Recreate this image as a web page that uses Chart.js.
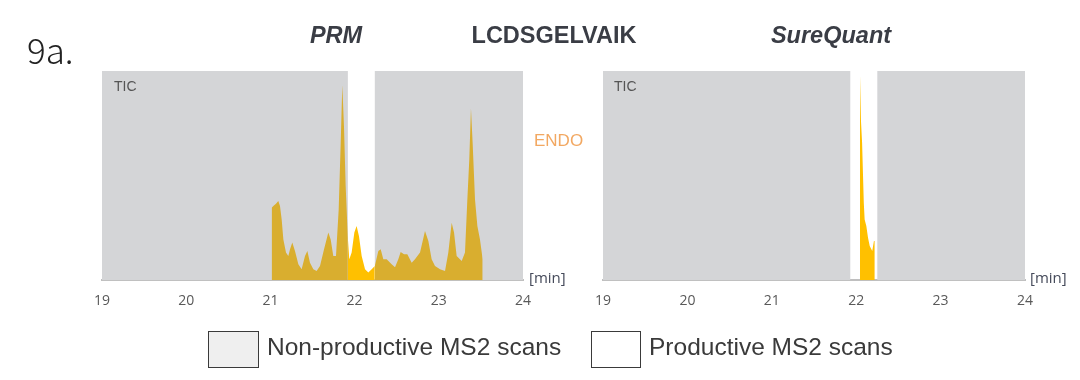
<!DOCTYPE html>
<html>
<head>
<meta charset="utf-8">
<script src="https://cdn.jsdelivr.net/npm/chart.js@4/dist/chart.umd.min.js"></script>
<style>
  html, body { margin: 0; padding: 0; background: #fff; }
  body { width: 1080px; height: 380px; position: relative; overflow: hidden; font-family: "Liberation Sans", Arial, sans-serif; }
  canvas { position: absolute; top: 0; }
  .t { position: absolute; white-space: nowrap; }
  .title { top: 22px; font-size: 23.5px; font-weight: bold; color: #3a3d45; transform: translateX(-50%); }
  .it { font-style: italic; }
  .lbl { color: #555; font-size: 14px; }
  .min { color: #454a5a; font-size: 15px; font-family: "Open Sans", sans-serif; }
  .box { position: absolute; border: 1.5px solid #3a3a3a; box-sizing: border-box; }
  .leg { position: absolute; font-size: 24.5px; color: #3a3a3a; top: 333px; }
</style>
</head>
<body>
<canvas id="c1" width="560" height="380" style="left:0"></canvas>
<canvas id="c2" width="560" height="380" style="left:501px"></canvas>

<div class="t" style="left:27px; top:23px; font-size:35px; font-family:'Noto Sans CJK KR', sans-serif; font-weight:300; color:#222;">9a.</div>
<div class="t title it" style="left:336px;">PRM</div>
<div class="t title" style="left:554px;">LCDSGELVAIK</div>
<div class="t title it" style="left:831px;">SureQuant</div>
<div class="t lbl" style="left:114px; top:78px;">TIC</div>
<div class="t lbl" style="left:614px; top:78px;">TIC</div>
<div class="t" style="left:534px; top:131px; font-size:17px; color:#F2A862;">ENDO</div>
<div class="t min" style="left:529px; top:267px;">[min]</div>
<div class="t min" style="left:1030px; top:267px;">[min]</div>

<div class="box" style="left:208px; top:331px; width:51px; height:37px; background:#EFEFEF;"></div>
<div class="leg" style="left:267px;">Non-productive MS2 scans</div>
<div class="box" style="left:591px; top:331px; width:50px; height:37px; background:#fff;"></div>
<div class="leg" style="left:649px;">Productive MS2 scans</div>

<script>
// ---- data ----
const timeTicks = [19, 20, 21, 22, 23, 24];
const fullScale = 100;
// retention-time windows with non-productive MS2 scans (min)
const prmNonProductive = [[19, 21.92], [22.24, 24]];
const sqNonProductive = [[19, 21.93], [22.25, 24]];
// PRM TIC trace (relative intensity)
const prmTime = [21.015, 21.015, 21.035, 21.066, 21.094, 21.114, 21.134, 21.154, 21.185, 21.213, 21.233, 21.260, 21.292, 21.332, 21.371, 21.411, 21.439, 21.470, 21.510, 21.549, 21.589, 21.637, 21.688, 21.716, 21.747, 21.779, 21.811, 21.835, 21.854, 21.874, 21.894, 21.920, 21.937, 21.965, 21.997, 22.024, 22.052, 22.084, 22.124, 22.163, 22.203, 22.240, 22.282, 22.310, 22.341, 22.381, 22.440, 22.480, 22.519, 22.547, 22.587, 22.626, 22.678, 22.717, 22.777, 22.836, 22.876, 22.915, 22.955, 23.014, 23.074, 23.113, 23.153, 23.181, 23.212, 23.272, 23.311, 23.339, 23.362, 23.382, 23.402, 23.430, 23.458, 23.489, 23.521, 23.521];
const prmIntensity = [0, 34.6, 35.5, 36.5, 37.8, 35.5, 29, 19.5, 13.3, 11.6, 14.8, 18, 14, 7.6, 5.2, 11.6, 14, 8.4, 5.2, 4.4, 6.8, 14.8, 22.8, 19.5, 11.6, 11.6, 33.8, 65.6, 93.3, 73.5, 44.9, 20, 10, 13.3, 22.8, 25.9, 21, 11.6, 5.2, 3.7, 5.2, 6.8, 14, 14.8, 10, 10, 7.6, 6.2, 10, 13.5, 12.4, 12.4, 8.4, 10, 13.3, 23.5, 18.7, 10, 6.8, 5.2, 4.4, 13.3, 27.5, 22.8, 11.6, 9.2, 13.3, 38.6, 57.6, 82.2, 65.6, 38.6, 25.9, 19.5, 10, 0];
// SureQuant TIC trace (relative intensity)
const sqTime = [22.045, 22.045, 22.057, 22.07, 22.08, 22.09, 22.10, 22.12, 22.14, 22.16, 22.19, 22.21, 22.22, 22.22];
const sqIntensity = [0, 98, 75.9, 65.6, 51.3, 37, 29, 25.9, 20.3, 16.3, 14, 18.7, 18.7, 0];

// ---- colours ----
const GRAY = '#D4D5D7';
const GOLD = '#D9AE2F';
const YELLOW = '#FFC000';

function regionPoints(regions) {
  const pts = [];
  regions.forEach(([a, b]) => {
    pts.push({x: a, y: 0}, {x: a, y: fullScale}, {x: b, y: fullScale}, {x: b, y: 0});
  });
  return pts;
}
function tracePoints(t, v) { return t.map((x, i) => ({x, y: v[i]})); }
function inRegions(x, regions) { return regions.some(([a, b]) => x >= a && x <= b); }

function makeChart(id, regions, time, inten, padLeft, plotWidth) {
  const canvas = document.getElementById(id);
  return new Chart(canvas, {
    type: 'line',
    data: {
      datasets: [
        {
          data: tracePoints(time, inten),
          order: 1,
          fill: 'origin',
          backgroundColor: YELLOW,
          borderWidth: 0,
          pointRadius: 0,
          tension: 0,
          segment: {
            backgroundColor: ctx => {
              const mid = (ctx.p0.parsed.x + ctx.p1.parsed.x) / 2;
              return inRegions(mid, regions) ? GOLD : YELLOW;
            }
          }
        },
        {
          data: regionPoints(regions),
          order: 2,
          fill: 'origin',
          backgroundColor: GRAY,
          borderWidth: 0,
          pointRadius: 0,
          tension: 0
        }
      ]
    },
    options: {
      responsive: false,
      animation: false,
      devicePixelRatio: 1,
      layout: { padding: { left: padLeft, right: canvas.width - padLeft - plotWidth, top: 71, bottom: 59 } },
      plugins: { legend: { display: false }, tooltip: { enabled: false } },
      scales: {
        x: {
          type: 'linear', min: timeTicks[0], max: timeTicks[timeTicks.length - 1],
          afterBuildTicks: s => { s.ticks = timeTicks.map(v => ({value: v})); },
          grid: { display: false, drawTicks: false },
          border: { display: true, color: '#BFBFBF', width: 2 },
          ticks: { padding: 12, color: '#595959', font: { family: 'Open Sans', size: 14 }, maxRotation: 0 }
        },
        y: { display: false, min: 0, max: fullScale }
      }
    }
  });
}

makeChart('c1', prmNonProductive, prmTime, prmIntensity, 102, 421);
makeChart('c2', sqNonProductive, sqTime, sqIntensity, 102, 422);
</script>
</body>
</html>
